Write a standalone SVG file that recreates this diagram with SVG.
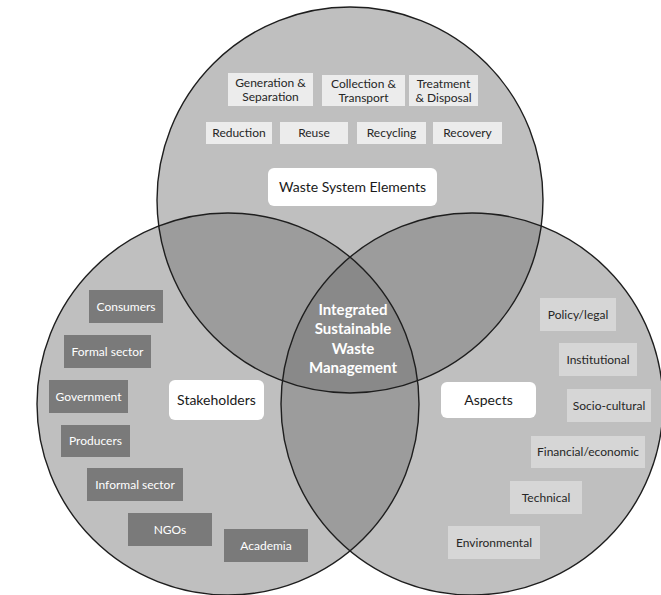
<svg xmlns="http://www.w3.org/2000/svg" width="661" height="595" viewBox="0 0 661 595">
<style>
.circ{fill:#747474;fill-opacity:0.46;stroke:none}
.ring{fill:none;stroke:#1e1e1e;stroke-width:1.4}
.lt{fill:#ececec}
.rt{fill:#d6d6d6}
.dk{fill:#7a7a7a}
.wb{fill:#ffffff}
text{font-family:Lato,"Open Sans","Liberation Sans",sans-serif;text-anchor:middle}
.s{font-size:12px;fill:#262626}
.sw{font-size:12px;fill:#ffffff}
.big{font-size:14px;fill:#1a1a1a}
.ctr{font-size:15px;font-weight:bold;fill:#ffffff}
</style>
<rect width="661" height="595" fill="#ffffff"/>
<g id="circles">
<circle class="circ" cx="350" cy="200" r="193"/>
<circle class="circ" cx="228" cy="404" r="191"/>
<circle class="circ" cx="472" cy="404" r="191"/>
<circle class="ring" cx="350" cy="200" r="193"/>
<circle class="ring" cx="228" cy="404" r="191"/>
<circle class="ring" cx="472" cy="404" r="191"/>
</g>
<g id="connectors"></g>
<g id="center">
<text class="ctr" x="353" y="315">Integrated</text>
<text class="ctr" x="353" y="334">Sustainable</text>
<text class="ctr" x="353" y="354">Waste</text>
<text class="ctr" x="353" y="373">Management</text>
</g>
<g id="waste-system-elements">
<rect class="wb" x="268" y="168" width="169" height="38" rx="6"/>
<text class="big" x="352.5" y="192">Waste System Elements</text>
</g>
<g id="generation"><rect class="lt" x="228" y="73" width="85" height="33"/><text class="s" x="270.5" y="87">Generation &amp;</text><text class="s" x="270.5" y="101">Separation</text></g>
<g id="collection"><rect class="lt" x="322" y="75" width="83" height="31"/><text class="s" x="363.5" y="88">Collection &amp;</text><text class="s" x="363.5" y="102">Transport</text></g>
<g id="treatment"><rect class="lt" x="409" y="75" width="69" height="31"/><text class="s" x="443.5" y="88">Treatment</text><text class="s" x="443.5" y="102">&amp; Disposal</text></g>
<g id="reduction"><rect class="lt" x="206" y="122" width="66" height="22"/><text class="s" x="239" y="137">Reduction</text></g>
<g id="reuse"><rect class="lt" x="280" y="122" width="68" height="22"/><text class="s" x="314" y="137">Reuse</text></g>
<g id="recycling"><rect class="lt" x="357" y="122" width="69" height="22"/><text class="s" x="391.5" y="137">Recycling</text></g>
<g id="recovery"><rect class="lt" x="433" y="122" width="69" height="22"/><text class="s" x="467.5" y="137">Recovery</text></g>
<g id="stakeholders">
<rect class="wb" x="169" y="380" width="95" height="40" rx="6"/>
<text class="big" x="216.5" y="405">Stakeholders</text>
</g>
<g id="consumers"><rect class="dk" x="89" y="290" width="74" height="33"/><text class="sw" x="126" y="311">Consumers</text></g>
<g id="formal-sector"><rect class="dk" x="64" y="335" width="87" height="33"/><text class="sw" x="107.5" y="356">Formal sector</text></g>
<g id="government"><rect class="dk" x="49" y="380" width="79" height="33"/><text class="sw" x="88.5" y="401">Government</text></g>
<g id="producers"><rect class="dk" x="61" y="425" width="69" height="32"/><text class="sw" x="95.5" y="445">Producers</text></g>
<g id="informal-sector"><rect class="dk" x="87" y="468" width="96" height="33"/><text class="sw" x="135" y="489">Informal sector</text></g>
<g id="ngos"><rect class="dk" x="128" y="513" width="84" height="33"/><text class="sw" x="170" y="534">NGOs</text></g>
<g id="academia"><rect class="dk" x="224" y="529" width="84" height="33"/><text class="sw" x="266" y="550">Academia</text></g>
<g id="aspects">
<rect class="wb" x="441" y="382" width="95" height="36" rx="6"/>
<text class="big" x="488.5" y="405">Aspects</text>
</g>
<g id="policy-legal"><rect class="rt" x="540" y="298" width="76" height="33"/><text class="s" x="578" y="319">Policy/legal</text></g>
<g id="institutional"><rect class="rt" x="559" y="343" width="78" height="33"/><text class="s" x="598" y="364">Institutional</text></g>
<g id="socio-cultural"><rect class="rt" x="567" y="389" width="84" height="33"/><text class="s" x="609" y="410">Socio-cultural</text></g>
<g id="financial"><rect class="rt" x="531" y="436" width="114" height="32"/><text class="s" x="588" y="456">Financial/economic</text></g>
<g id="technical"><rect class="rt" x="510" y="481" width="72" height="33"/><text class="s" x="546" y="502">Technical</text></g>
<g id="environmental"><rect class="rt" x="448" y="526" width="92" height="33"/><text class="s" x="494" y="547">Environmental</text></g>
</svg>
